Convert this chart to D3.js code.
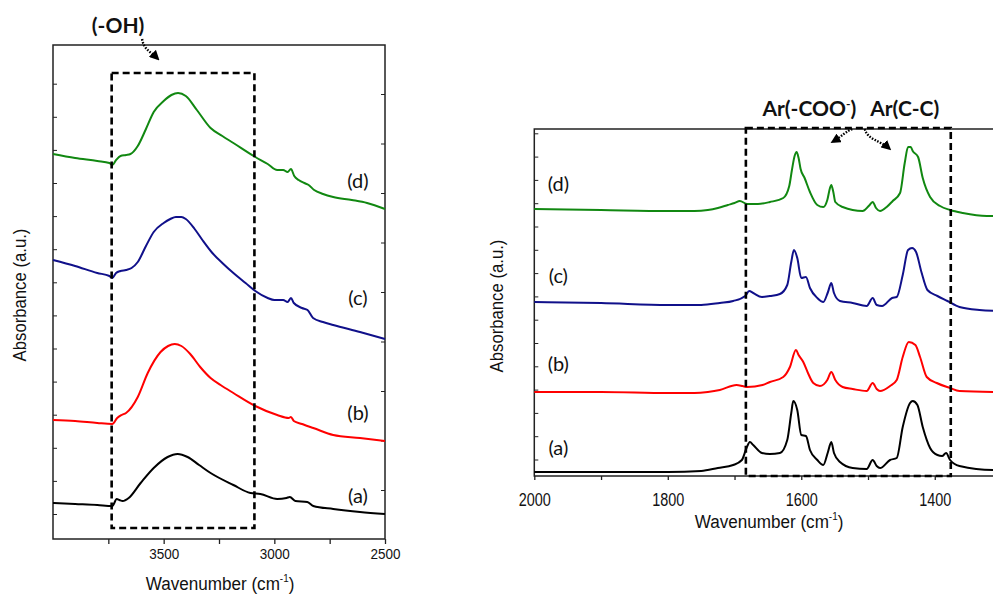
<!DOCTYPE html>
<html>
<head>
<meta charset="utf-8">
<script src="https://cdn.jsdelivr.net/npm/d3@7"></script>
<style>
  body { margin: 0; background: #fff; }
  svg { display: block; }
</style>
</head>
<body>
<svg id="chart" width="993" height="599"></svg>
<script>
// ---- data (wavenumber, absorbance a.u.) ----
const sampleLabels = ["(a)", "(b)", "(c)", "(d)"];
const sampleColors = ["#000000", "#ff0000", "#10108a", "#118811"];

// O-H region, 4000-2500 cm-1
const ohTicks = [3750, 3500, 3250, 3000, 2750, 2500];
const ohTickLabels = [3500, 3000, 2500];
const ohA = [[4000,0.36],[3900,0.35],[3800,0.34],[3732,0.33],[3712,0.40],[3700,0.39],[3685,0.38],[3658,0.41],[3604,0.56],[3545,0.71],[3482,0.82],[3437,0.85],[3392,0.82],[3340,0.74],[3288,0.66],[3185,0.54],[3108,0.46],[3063,0.45],[2987,0.40],[2945,0.41],[2930,0.42],[2905,0.38],[2851,0.37],[2824,0.33],[2734,0.30],[2613,0.27],[2500,0.25]];
const ohB = [[4000,1.19],[3900,1.18],[3800,1.16],[3732,1.15],[3710,1.21],[3690,1.24],[3670,1.26],[3617,1.42],[3572,1.66],[3514,1.87],[3480,1.93],[3450,1.95],[3420,1.93],[3380,1.85],[3335,1.72],[3288,1.61],[3243,1.54],[3185,1.46],[3086,1.33],[2987,1.24],[2935,1.21],[2925,1.22],[2912,1.18],[2875,1.15],[2851,1.13],[2824,1.11],[2734,1.04],[2613,1.01],[2500,0.98]];
const ohC = [[4000,2.79],[3900,2.73],[3800,2.66],[3745,2.63],[3732,2.61],[3715,2.66],[3695,2.68],[3670,2.69],[3645,2.71],[3617,2.77],[3580,2.93],[3545,3.07],[3500,3.16],[3470,3.20],[3445,3.22],[3420,3.22],[3400,3.20],[3360,3.10],[3325,2.99],[3280,2.86],[3235,2.76],[3185,2.66],[3130,2.56],[3086,2.48],[3030,2.41],[3000,2.39],[2960,2.39],[2940,2.37],[2925,2.41],[2912,2.36],[2875,2.31],[2850,2.29],[2825,2.21],[2780,2.17],[2734,2.14],[2613,2.07],[2500,2.00]];
const ohD = [[4000,3.85],[3900,3.81],[3800,3.78],[3745,3.76],[3732,3.74],[3715,3.79],[3695,3.83],[3670,3.84],[3650,3.85],[3617,3.93],[3580,4.10],[3545,4.27],[3500,4.38],[3465,4.44],[3435,4.46],[3400,4.43],[3350,4.29],[3288,4.11],[3235,4.03],[3185,3.96],[3086,3.82],[3030,3.75],[2987,3.69],[2960,3.69],[2940,3.67],[2925,3.70],[2910,3.63],[2890,3.59],[2865,3.56],[2845,3.54],[2820,3.49],[2780,3.45],[2734,3.42],[2650,3.39],[2581,3.36],[2500,3.30]];
const ohLabelAt = [[2622,0.44],[2622,1.27],[2622,2.42],[2622,3.59]];
const ohBox = { from: [3735, 0.11], to: [3090, 4.66] };

// aromatic region, 2000-1300 cm-1
const arTicks = [2000, 1900, 1800, 1700, 1600, 1500, 1400, 1300];
const arTickLabels = [2000, 1800, 1600, 1400];
const arA = [[2000,0.04],[1800,0.04],[1750,0.05],[1725,0.08],[1702,0.11],[1689,0.16],[1682,0.28],[1677,0.34],[1672,0.31],[1659,0.23],[1647,0.22],[1632,0.23],[1621,0.36],[1615,0.63],[1612,0.75],[1606,0.66],[1600,0.41],[1593,0.40],[1587,0.26],[1576,0.16],[1567,0.11],[1560,0.24],[1555,0.34],[1551,0.23],[1542,0.14],[1523,0.08],[1502,0.07],[1493,0.16],[1487,0.10],[1482,0.08],[1467,0.16],[1457,0.18],[1448,0.49],[1437,0.73],[1433,0.75],[1426,0.71],[1418,0.49],[1407,0.28],[1396,0.21],[1389,0.20],[1383,0.23],[1377,0.16],[1363,0.10],[1313,0.06],[1300,0.06]];
const arB = [[2000,0.84],[1900,0.84],[1800,0.83],[1760,0.83],[1740,0.84],[1722,0.86],[1697,0.91],[1688,0.90],[1681,0.89],[1658,0.91],[1647,0.94],[1627,0.99],[1617,1.09],[1608,1.26],[1604,1.21],[1597,1.14],[1590,1.03],[1582,0.93],[1572,0.90],[1561,0.96],[1555,1.04],[1549,0.96],[1538,0.89],[1523,0.87],[1502,0.85],[1493,0.93],[1487,0.87],[1482,0.85],[1467,0.90],[1457,0.96],[1448,1.19],[1439,1.34],[1429,1.31],[1422,1.19],[1412,0.99],[1397,0.93],[1377,0.88],[1363,0.85],[1300,0.84]];
const arC = [[2000,1.74],[1900,1.73],[1800,1.71],[1750,1.71],[1722,1.73],[1702,1.75],[1684,1.80],[1678,1.85],[1672,1.83],[1659,1.79],[1647,1.80],[1632,1.82],[1621,1.91],[1615,2.14],[1611,2.26],[1606,2.18],[1600,1.98],[1593,1.99],[1587,1.88],[1576,1.78],[1567,1.74],[1560,1.84],[1555,1.93],[1551,1.83],[1542,1.75],[1523,1.73],[1502,1.70],[1493,1.78],[1487,1.71],[1479,1.70],[1464,1.78],[1457,1.79],[1448,2.01],[1440,2.26],[1434,2.28],[1428,2.24],[1420,2.04],[1411,1.86],[1396,1.80],[1381,1.75],[1363,1.69],[1333,1.66],[1300,1.65]];
const arD = [[2000,2.67],[1900,2.66],[1800,2.65],[1760,2.65],[1740,2.66],[1725,2.68],[1710,2.71],[1700,2.73],[1692,2.75],[1681,2.72],[1665,2.72],[1647,2.74],[1627,2.78],[1618,2.90],[1614,3.06],[1610,3.20],[1607,3.24],[1604,3.18],[1601,3.07],[1595,2.98],[1587,2.84],[1576,2.71],[1567,2.69],[1561,2.76],[1557,2.88],[1555,2.91],[1552,2.84],[1549,2.74],[1538,2.69],[1508,2.65],[1499,2.70],[1493,2.74],[1488,2.68],[1482,2.65],[1472,2.69],[1463,2.75],[1452,2.83],[1445,3.13],[1440,3.29],[1436,3.29],[1433,3.25],[1425,3.19],[1418,2.98],[1407,2.79],[1392,2.70],[1377,2.66],[1358,2.63],[1322,2.60],[1300,2.60]];
const arLabelAt = [[1964,0.29],[1964,1.13],[1964,2.01],[1964,2.93]];
const arBox = { from: [1683, 0.0], to: [1376, 3.48] };

const svg = d3.select("#chart");

svg.append("defs").append("marker")
  .attr("id", "head")
  .attr("viewBox", "0 0 10 10")
  .attr("refX", 8).attr("refY", 5)
  .attr("markerWidth", 10).attr("markerHeight", 10)
  .attr("markerUnits", "userSpaceOnUse")
  .attr("orient", "auto")
  .append("path")
  .attr("d", "M0,0 L10,5 L0,10 Z")
  .attr("fill", "#000");

const line = (x, y) => d3.line()
  .x(d => x(d[0]))
  .y(d => y(d[1]))
  .curve(d3.curveMonotoneX);

function drawPanel(p) {
  const x = d3.scaleLinear().domain(p.xDomain).range(p.xRange);
  const y = d3.scaleLinear().domain(p.yDomain).range(p.yRange);
  const g = svg.append("g");

  // x axis, ticks outward
  const xAxis = g.append("g")
    .attr("transform", `translate(0,${p.yRange[0]})`)
    .call(d3.axisBottom(x)
      .tickValues(p.xTicks)
      .tickSize(p.tickOut)
      .tickPadding(p.tickPad)
      .tickFormat(d => p.xLabels.includes(d) ? d : ""));
  xAxis.select(".domain").remove();
  xAxis.selectAll("line").attr("stroke", "#222").attr("stroke-width", 1.3);
  xAxis.selectAll("text")
    .attr("font-family", "'Liberation Sans', Arial, sans-serif")
    .attr("font-size", p.tickFont)
    .attr("fill", "#111")
    .attr("transform", `scale(${p.tickSquash},1)`);

  // inward y ticks, no labels
  const yl = g.append("g")
    .attr("transform", `translate(${p.xRange[0]},0)`)
    .call(d3.axisLeft(y).tickValues(p.yTicksLeft).tickSize(-4).tickFormat(""));
  yl.select(".domain").remove();
  yl.selectAll("line").attr("stroke", "#222");
  if (p.yTicksRight) {
    const yr = g.append("g")
      .attr("transform", `translate(${p.xRange[1]},0)`)
      .call(d3.axisRight(y).tickValues(p.yTicksRight).tickSize(-4).tickFormat(""));
    yr.select(".domain").remove();
    yr.selectAll("line").attr("stroke", "#222");
  }

  // frame
  g.append("rect")
    .attr("x", p.xRange[0]).attr("y", p.yRange[1])
    .attr("width", p.xRange[1] - p.xRange[0])
    .attr("height", p.yRange[0] - p.yRange[1])
    .attr("fill", "none").attr("stroke", "#222").attr("stroke-width", 1.5);

  // spectra
  g.selectAll("path.spec")
    .data(p.series)
    .join("path")
    .attr("class", "spec")
    .attr("d", line(x, y))
    .attr("fill", "none")
    .attr("stroke", (d, i) => sampleColors[i])
    .attr("stroke-width", 2);

  // sample labels
  g.selectAll("text.lab")
    .data(p.labelAt)
    .join("text")
    .attr("class", "lab")
    .attr("x", d => x(d[0]))
    .attr("y", d => y(d[1]))
    .attr("text-anchor", "middle")
    .attr("dominant-baseline", "central")
    .attr("font-family", "Lato, 'Open Sans', sans-serif")
    .attr("font-size", 20)
    .attr("fill", "#111")
    .text((d, i) => sampleLabels[i]);

  // dashed region box
  const bx0 = x(p.box.from[0]), bx1 = x(p.box.to[0]);
  const by0 = y(p.box.to[1]), by1 = y(p.box.from[1]);
  g.append("rect")
    .attr("x", bx0).attr("y", by0)
    .attr("width", bx1 - bx0).attr("height", by1 - by0)
    .attr("fill", "none").attr("stroke", "#000")
    .attr("stroke-width", 2.6).attr("stroke-dasharray", "7,4");

  // axis titles
  const xt = g.append("text")
    .attr("transform", `translate(${p.xTitle[0]},${p.xTitle[1]}) scale(0.9,1)`)
    .attr("text-anchor", "middle")
    .attr("font-family", "'Liberation Sans', Arial, sans-serif")
    .attr("font-size", 19)
    .attr("fill", "#111");
  xt.append("tspan").text("Wavenumber (cm");
  xt.append("tspan").attr("font-size", 11).attr("dy", -8).text("-1");
  xt.append("tspan").attr("dy", 8).text(")");

  g.append("text")
    .attr("transform", `translate(${p.yTitle[0]},${p.yTitle[1]}) rotate(-90) scale(0.88,1)`)
    .attr("text-anchor", "middle")
    .attr("dominant-baseline", "central")
    .attr("font-family", "'Liberation Sans', Arial, sans-serif")
    .attr("font-size", 19)
    .attr("fill", "#111")
    .text("Absorbance (a.u.)");

  // band annotations with dotted arrows
  p.notes.forEach(n => {
    const ax = x(n.at[0]), ay = y(n.at[1]);
    const t = g.append("text")
      .attr("x", ax).attr("y", ay)
      .attr("text-anchor", "middle")
      .attr("font-family", "Lato, 'Open Sans', sans-serif")
      .attr("font-weight", "bold")
      .attr("font-size", n.size)
      .attr("fill", "#111");
    t.append("tspan").text(n.text);
    if (n.sup) {
      t.append("tspan").attr("font-size", 12).attr("dy", -8).text(n.sup);
      t.append("tspan").attr("dy", 8).text(")");
    }
    const c = n.arrow.map(q => [ax + q[0], ay + q[1]]);
    g.append("path")
      .attr("d", `M${c[0]} C${c[1]} ${c[2]} ${c[3]}`)
      .attr("fill", "none")
      .attr("stroke", "#000")
      .attr("stroke-width", 2.4)
      .attr("stroke-dasharray", "1.6,1.4")
      .attr("marker-end", "url(#head)");
  });
}

drawPanel({
  xDomain: [4000, 2500], xRange: [53, 385],
  yDomain: [0, 4.94], yRange: [539, 45],
  xTicks: ohTicks, xLabels: ohTickLabels,
  tickOut: 5, tickPad: 4, tickFont: 15, tickSquash: 0.9,
  yTicksLeft: d3.range(0.25, 4.6, 0.331),
  yTicksRight: d3.range(0.49, 4.5, 0.495),
  series: [ohA, ohB, ohC, ohD],
  labelAt: ohLabelAt,
  box: ohBox,
  xTitle: [220, 590], yTitle: [20, 295],
  notes: [
    { text: "(-OH)", at: [3706, 5.06], size: 21,
      arrow: [[24, 6], [26, 17], [32, 18], [40, 26]] }
  ]
});

drawPanel({
  xDomain: [2000, 1300], xRange: [534.3, 1001.5],
  yDomain: [0, 3.47], yRange: [476, 129],
  xTicks: arTicks, xLabels: arTickLabels,
  tickOut: 4, tickPad: 13, tickFont: 19, tickSquash: 0.76,
  yTicksLeft: d3.range(3.427, 0.1, -0.233),
  yTicksRight: null,
  series: [arA, arB, arC, arD],
  labelAt: arLabelAt,
  box: arBox,
  xTitle: [769, 528], yTitle: [497, 306],
  notes: [
    { text: "Ar(-COO", sup: "-", at: [1588, 3.60], size: 21,
      arrow: [[43, 13], [37, 15], [33, 20], [23, 26]] },
    { text: "Ar(C-C)", at: [1445, 3.60], size: 21,
      arrow: [[-40, 13], [-37, 24], [-25, 24], [-15, 33]] }
  ]
});
</script>
</body>
</html>
